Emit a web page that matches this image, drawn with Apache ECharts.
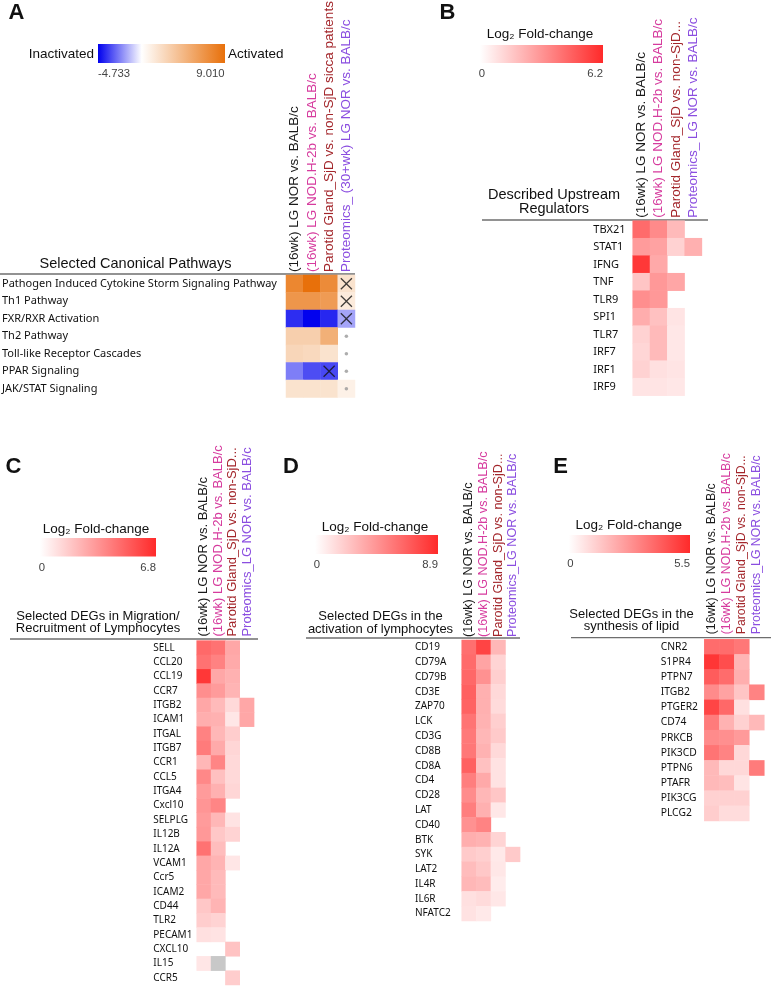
<!DOCTYPE html>
<html>
<head>
<meta charset="utf-8">
<style>
html, body { margin: 0; padding: 0; background: #fff; }
#main { width: 771px; height: 987px; }
</style>
<script src="https://cdn.jsdelivr.net/npm/echarts@6/dist/echarts.min.js"></script>
</head>
<body>
<div id="main"></div>
<script>
// column headers (shared by all panels, wording differs a bit)
var colsA = ['(16wk) LG NOR vs. BALB/c', '(16wk) LG NOD.H-2b vs. BALB/c', 'Parotid Gland_SjD vs. non-SjD sicca patients', 'Proteomics_ (30+wk) LG NOR vs. BALB/c'];
var colsB = ['(16wk) LG NOR vs. BALB/c', '(16wk) LG NOD.H-2b vs. BALB/c', 'Parotid Gland_SjD vs. non-SjD...', 'Proteomics_ LG NOR vs. BALB/c'];
var colsCDE = ['(16wk) LG NOR vs. BALB/c', '(16wk) LG NOD.H-2b vs. BALB/c', 'Parotid Gland_SjD vs. non-SjD...', 'Proteomics_LG NOR vs. BALB/c'];
var colColors = ['#1a1a1a', '#d63b9e', '#a3262b', '#8b4ee0'];

// A - canonical pathways (z-score)
var pathRows = ['Pathogen Induced Cytokine Storm Signaling Pathway', 'Th1 Pathway', 'FXR/RXR Activation', 'Th2 Pathway', 'Toll-like Receptor Cascades', 'PPAR Signaling', 'JAK/STAT Signaling'];
var pathZ = [
    [7.6, 9.0, 7.3, 1.8],
    [6.6, 6.6, 6.3, 1.3],
    [-3.9, -4.7, -4.0, -1.7],
    [3.0, 3.0, 5.0, null],
    [2.6, 2.4, 1.8, null],
    [-2.4, -3.3, -3.4, null],
    [1.8, 1.8, 1.8, 0.9]
];
var pathCross = [[3, 0], [3, 1], [3, 2], [2, 5]];
var pathDot = [[3, 3], [3, 4], [3, 5], [3, 6]];
var pathMin = -4.733, pathMax = 9.010;

// B - upstream regulators
var regRows = ['TBX21', 'STAT1', 'IFNG', 'TNF', 'TLR9', 'SPI1', 'TLR7', 'IRF7', 'IRF1', 'IRF9'];
var regZ = [
    [4.3, 3.4, 2.0, null],
    [2.9, 2.7, 1.3, 2.3],
    [5.8, 2.5, null, null],
    [1.7, 3.0, 2.6, null],
    [3.3, 3.0, null, null],
    [2.4, 1.8, 0.8, null],
    [1.3, 2.0, 0.7, null],
    [1.2, 2.0, 0.7, null],
    [1.3, 0.9, 0.8, null],
    [0.8, 0.8, 0.7, null]
];
var regMax = 6.2;

// C - migration / recruitment
var migRows = ['SELL', 'CCL20', 'CCL19', 'CCR7', 'ITGB2', 'ICAM1', 'ITGAL', 'ITGB7', 'CCR1', 'CCL5', 'ITGA4', 'Cxcl10', 'SELPLG', 'IL12B', 'IL12A', 'VCAM1', 'Ccr5', 'ICAM2', 'CD44', 'TLR2', 'PECAM1', 'CXCL10', 'IL15', 'CCR5'];
var migZ = [
    [4.8, 4.5, 2.8, null],
    [4.5, 4.0, 2.7, null],
    [6.4, 2.8, 2.5, null],
    [3.6, 3.2, 2.4, null],
    [2.8, 2.2, 1.2, 2.8],
    [2.6, 2.5, 0.8, 2.8],
    [4.0, 2.3, 1.6, null],
    [4.2, 2.7, 1.3, null],
    [2.3, 3.9, 1.2, null],
    [3.8, 2.0, 1.2, null],
    [3.2, 2.5, 1.3, null],
    [3.4, 3.9, null, null],
    [3.2, 2.3, 0.9, null],
    [3.3, 1.8, 1.4, null],
    [4.5, 2.1, null, null],
    [2.8, 2.4, 0.8, null],
    [2.8, 2.2, null, null],
    [2.8, 2.2, null, null],
    [1.8, 2.4, null, null],
    [1.6, 1.4, null, null],
    [1.0, 0.9, null, null],
    [null, null, 1.9, null],
    [0.8, 'NA', null, null],
    [null, null, 1.6, null]
];
var migMax = 6.8;

// D - activation of lymphocytes
var actRows = ['CD19', 'CD79A', 'CD79B', 'CD3E', 'ZAP70', 'LCK', 'CD3G', 'CD8B', 'CD8A', 'CD4', 'CD28', 'LAT', 'CD40', 'BTK', 'SYK', 'LAT2', 'IL4R', 'IL6R', 'NFATC2'];
var actZ = [
    [6.0, 7.8, 3.0, null],
    [6.2, 3.8, 1.8, null],
    [6.3, 4.6, 2.0, null],
    [6.6, 3.3, 1.6, null],
    [6.5, 3.3, 1.5, null],
    [5.8, 3.2, 2.0, null],
    [5.6, 3.0, 2.2, null],
    [5.7, 3.2, 1.6, null],
    [6.6, 2.6, 1.2, null],
    [5.4, 3.6, 1.2, null],
    [4.8, 3.0, 2.4, null],
    [5.4, 3.3, 1.0, null],
    [4.6, 5.2, null, null],
    [3.4, 3.2, 1.8, null],
    [2.2, 2.0, 0.9, 2.2],
    [2.8, 2.3, 1.0, null],
    [3.0, 2.8, 0.8, null],
    [1.3, 1.5, 1.0, null],
    [1.2, 0.9, null, null]
];
var actMax = 8.9;

// E - synthesis of lipid
var lipRows = ['CNR2', 'S1PR4', 'PTPN7', 'ITGB2', 'PTGER2', 'CD74', 'PRKCB', 'PIK3CD', 'PTPN6', 'PTAFR', 'PIK3CG', 'PLCG2'];
var lipZ = [
    [3.8, 3.8, 3.5, null],
    [5.2, 4.6, 1.9, null],
    [4.2, 3.8, 2.1, null],
    [3.0, 2.4, 1.5, 3.2],
    [4.8, 3.9, 0.8, null],
    [3.4, 2.0, 1.2, 1.8],
    [3.0, 2.9, 2.6, null],
    [3.6, 3.2, 1.0, null],
    [1.8, 1.0, 1.0, 3.4],
    [1.8, 1.7, 0.7, null],
    [1.2, 1.2, 1.2, null],
    [1.3, 0.9, 0.9, null]
];
var lipMax = 5.5;

var RED = '#ff2a2a', BLUE = '#0000ee', ORANGE = '#e8700a';

function hexToRgb(h) {
    return [parseInt(h.substr(1, 2), 16), parseInt(h.substr(3, 2), 16), parseInt(h.substr(5, 2), 16)];
}
function mix(a, b, t) {
    var x = hexToRgb(a), y = hexToRgb(b);
    var c = [0, 1, 2].map(function (k) { return Math.round(x[k] + (y[k] - x[k]) * t); });
    return 'rgb(' + c.join(',') + ')';
}
// diverging ramp with white exactly at zero
function divergingRamp(min, max) {
    var list = [];
    for (var k = 0; k <= 80; k++) {
        var v = min + (max - min) * k / 80;
        list.push(v < 0 ? mix('#ffffff', BLUE, v / min) : mix('#ffffff', ORANGE, v / max));
    }
    return list;
}

function cells(z, na) {
    var out = [];
    for (var r = 0; r < z.length; r++) {
        for (var c = 0; c < z[r].length; c++) {
            var v = z[r][c];
            if (na ? v === 'NA' : typeof v === 'number') out.push([c, r, na ? 0 : v]);
        }
    }
    return out;
}

var option = {
    backgroundColor: '#fff',
    animation: false,
    grid: [], xAxis: [], yAxis: [], series: [], visualMap: [], graphic: []
};

function addPanel(p) {
    var i = option.grid.length;
    option.grid.push({
        left: p.left, top: p.top, width: p.cw * 4, height: p.rh * p.rows.length,
        outerBoundsMode: 'none', containLabel: false
    });
    option.xAxis.push({
        type: 'category', gridIndex: i, position: 'top', data: p.cols,
        axisLine: { show: false }, axisTick: { show: false }, splitLine: { show: false },
        axisLabel: {
            rotate: -90, interval: 0, margin: p.colMargin, fontSize: p.colFont,
            fontFamily: 'Liberation Sans',
            color: function (v, idx) { return colColors[idx]; }
        }
    });
    option.yAxis.push({
        type: 'category', gridIndex: i, inverse: true, data: p.rows,
        axisLine: { show: false }, axisTick: { show: false }, splitLine: { show: false },
        axisLabel: {
            interval: 0, margin: p.rowMargin, align: 'left',
            fontSize: p.rowFont, fontFamily: 'Noto Sans', color: '#111'
        }
    });
    var si = option.series.length;
    option.series.push({
        type: 'heatmap', xAxisIndex: i, yAxisIndex: i, data: cells(p.z),
        itemStyle: { borderWidth: 0 }, emphasis: { disabled: true }, silent: true
    });
    option.visualMap.push({
        type: 'continuous', show: false, seriesIndex: si, dimension: 2,
        min: p.min, max: p.max, inRange: { color: p.colors }
    });
    var na = cells(p.z, true);
    if (na.length) {
        option.series.push({
            type: 'heatmap', xAxisIndex: i, yAxisIndex: i, data: na,
            itemStyle: { color: '#c8c8c8', borderWidth: 0 }, emphasis: { disabled: true }, silent: true
        });
    }
    return i;
}

function txt(s, x, y, size, opts) {
    opts = opts || {};
    option.graphic.push({
        type: 'text', silent: true,
        style: {
            text: s, x: x, y: y,
            fontSize: size, fontFamily: opts.family || 'Liberation Sans',
            fontWeight: opts.weight || 'normal',
            fill: opts.color || '#111',
            lineHeight: opts.lh,
            align: opts.align || 'center', textAlign: opts.align || 'center',
            verticalAlign: 'middle', textVerticalAlign: 'middle'
        }
    });
}
function hline(x1, x2, y) {
    option.graphic.push({
        type: 'line', silent: true,
        shape: { x1: x1, y1: y, x2: x2, y2: y },
        style: { stroke: '#6e6e6e', lineWidth: 1.3 }
    });
}
function colorbar(x, y, w, h, stops) {
    option.graphic.push({
        type: 'rect', silent: true,
        shape: { x: x, y: y, width: w, height: h },
        style: { fill: { type: 'linear', x: 0, y: 0, x2: 1, y2: 0, colorStops: stops } }
    });
}
function foldLegend(cx, ty, x, y, w, h, maxLabel) {
    txt('Log\u2082 Fold-change', cx, ty, 13.5);
    colorbar(x, y, w, h, [{ offset: 0, color: '#ffffff' }, { offset: 1, color: RED }]);
    txt('0', x + 2, y + h + 11, 11.3, { color: '#444' });
    txt(maxLabel, x + w, y + h + 11, 11.3, { color: '#444', align: 'right' });
}

// ---- panel A
var gA = addPanel({
    left: 286, top: 275, cw: 17.25, rh: 17.5, rows: pathRows, cols: colsA, z: pathZ,
    min: pathMin, max: pathMax, colors: divergingRamp(pathMin, pathMax),
    colFont: 13.5, colMargin: 3, rowFont: 11, rowMargin: 284
});
option.series.push({
    type: 'scatter', xAxisIndex: gA, yAxisIndex: gA, data: pathCross, silent: true,
    symbol: 'path://M0,1.5L1.5,0L10,8.5L18.5,0L20,1.5L11.5,10L20,18.5L18.5,20L10,11.5L1.5,20L0,18.5L8.5,10Z',
    symbolSize: 12, itemStyle: { color: '#111' }, emphasis: { disabled: true }
});
option.series.push({
    type: 'scatter', xAxisIndex: gA, yAxisIndex: gA, data: pathDot, silent: true,
    symbol: 'circle', symbolSize: 3.5, itemStyle: { color: '#999' }, emphasis: { disabled: true }
});

// ---- panel B
addPanel({
    left: 632.7, top: 220.7, cw: 17.3, rh: 17.5, rows: regRows, cols: colsB, z: regZ,
    min: 0, max: regMax, colors: ['#ffffff', RED],
    colFont: 13.5, colMargin: 3, rowFont: 11, rowMargin: 39.4
});

// ---- panel C
addPanel({
    left: 196.7, top: 640.6, cw: 14.35, rh: 14.35, rows: migRows, cols: colsCDE, z: migZ,
    min: 0, max: migMax, colors: ['#ffffff', RED],
    colFont: 13, colMargin: 4, rowFont: 10, rowMargin: 43.4
});

// ---- panel D
addPanel({
    left: 461.7, top: 640, cw: 14.6, rh: 14.79, rows: actRows, cols: colsCDE, z: actZ,
    min: 0, max: actMax, colors: ['#ffffff', RED],
    colFont: 12.6, colMargin: 3, rowFont: 10, rowMargin: 46.7
});

// ---- panel E
addPanel({
    left: 704.3, top: 639.3, cw: 15, rh: 15.14, rows: lipRows, cols: colsCDE, z: lipZ,
    min: 0, max: lipMax, colors: ['#ffffff', RED],
    colFont: 12.3, colMargin: 5, rowFont: 10.3, rowMargin: 43.6
});

// panel letters
txt('A', 16.5, 13, 22, { weight: 'bold' });
txt('B', 447.5, 13, 22, { weight: 'bold' });
txt('C', 13.5, 467, 22, { weight: 'bold' });
txt('D', 291, 467, 22, { weight: 'bold' });
txt('E', 560.5, 467, 22, { weight: 'bold' });

// A legend
colorbar(98, 44, 127, 19, [{ offset: 0, color: BLUE }, { offset: -pathMin / (pathMax - pathMin), color: '#ffffff' }, { offset: 1, color: ORANGE }]);
txt('Inactivated', 94, 54, 13.5, { align: 'right' });
txt('Activated', 228, 54, 13.5, { align: 'left' });
txt(pathMin.toFixed(3), 98, 74, 11.3, { color: '#444', align: 'left' });
txt(pathMax.toFixed(3), 224.5, 74, 11.3, { color: '#444', align: 'right' });

foldLegend(540, 34, 480, 45, 123, 18, String(regMax));
foldLegend(96, 529, 40, 538, 116, 18.5, String(migMax));
foldLegend(375, 527, 315, 535, 123, 19, String(actMax));
foldLegend(628.7, 525, 568.5, 535, 121.5, 18, String(lipMax));

// table titles and rules
txt('Selected Canonical Pathways', 135.5, 264, 14.5);
hline(0, 355, 274);
txt('Described Upstream\nRegulators', 554, 202, 14.5, { lh: 14 });
hline(482, 708, 220);
txt('Selected DEGs in Migration/\nRecruitment of Lymphocytes', 98, 622.5, 13, { lh: 12 });
hline(10, 258, 639);
txt('Selected DEGs in the\nactivation of lymphocytes', 380.5, 623, 13, { lh: 12.5 });
hline(306, 520, 638);
txt('Selected DEGs in the\nsynthesis of lipid', 631.5, 620, 13, { lh: 12 });
hline(571, 771, 637.7);

var chart = echarts.init(document.getElementById('main'), null, { renderer: 'canvas' });
chart.setOption(option);
</script>
</body>
</html>
